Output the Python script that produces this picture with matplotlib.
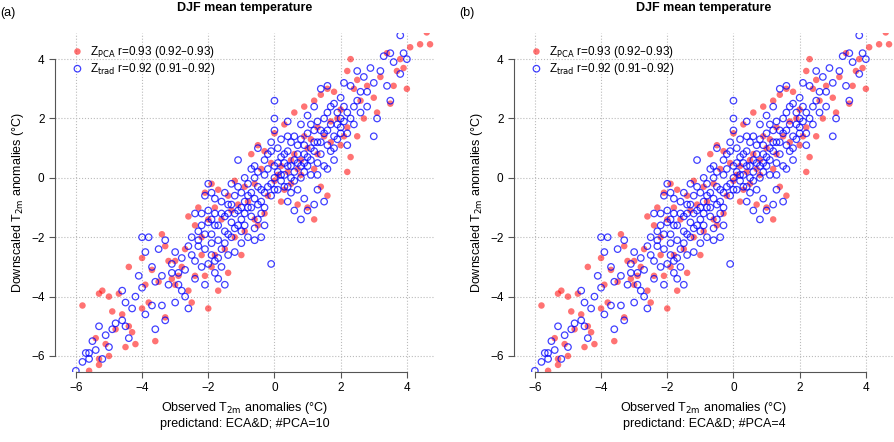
import matplotlib
matplotlib.use('Agg')
import matplotlib.pyplot as plt

plt.rcParams['font.family'] = ['Liberation Sans', 'DejaVu Sans']

# observed vs downscaled anomalies (approximate)
trad_pts = [(-6,-6.5),(-5.8,-6.2),(-5.7,-5.9),(-5.6,-6.1),(-5.5,-5.5),(-5.4,-5.8),(-5.2,-6.1),(-5.1,-5.3),(-5.0,-5.7),(-4.9,-5.1),
    (-4.8,-4.9),(-4.6,-4.8),(-4.5,-5.0),(-4.4,-5.4),(-4.5,-4.2),(-4.3,-4.4),(-4.6,-3.8),(-4.2,-4.0),(-4.0,-3.7),(-3.9,-4.6),
    (-3.7,-4.3),(-3.6,-5.1),(-3.4,-4.3),(-3.3,-4.8),(-3.9,-2.5),(-4.0,-2.0),(-3.8,-2.0),(-3.5,-2.4),(-3.7,-3.0),(-3.4,-3.3),
    (-3.2,-3.6),(-3.1,-2.9),(-3.0,-2.5),(-2.9,-3.2),(-2.8,-3.8),(-2.7,-4.0),(-2.6,-4.4),(-3.0,-4.2),(-2.5,-2.0),(-2.3,-2.3),
    (-2.2,-1.2),(-2.0,-0.2),(-2.1,-0.6),(-1.9,-0.5),(-2.0,-1.5),(-1.8,-2.8),(-1.7,-3.4),(-1.5,-3.6),(-1.6,-3.0),(-2.2,-3.0),
    (-2.4,-2.8),(-1.9,-2.2),(-1.4,-2.6),(-1.2,-2.5),(-1.0,-2.2),(-0.8,-2.0),(-0.6,-2.1),(-0.4,-2.0),(-0.1,-2.9),(-0.3,-1.6),
    (-1.0,-1.4),(-1.4,-1.2),(-1.6,-0.8),(-1.3,-0.2),(-1.1,0.6),(-0.9,0.0),(-0.8,-0.6),(-0.5,-0.9),(-0.7,0.3),(-0.5,1.0),
    (-0.3,0.6),(0.0,2.6),(0.0,1.6),(0.0,2.0),(-0.1,1.2),(0.2,1.3),(0.4,1.9),(0.1,0.2),(0.3,-0.3),(0.5,-0.5),
    (0.6,-1.1),(0.8,-1.4),(1.0,-1.1),(1.2,-0.9),(1.5,-0.8),(0.7,0.5),(0.9,0.2),(1.1,0.6),(1.3,0.1),(1.6,0.3),
    (0.4,0.9),(0.6,1.4),(0.8,1.8),(1.0,2.1),(1.2,2.4),(1.4,3.0),(1.6,3.1),(1.8,2.5),(2.0,2.0),(1.9,1.3),
    (2.2,1.5),(2.4,2.4),(2.6,2.9),(2.3,3.1),(2.5,3.6),(2.8,2.9),(3.0,3.2),(3.1,2.0),(3.0,1.4),(3.2,3.6),
    (3.4,3.1),(3.5,2.6),(3.6,3.9),(3.8,3.5),(3.9,4.2),(4.0,4.0),(3.8,4.8),(3.5,4.2),(3.3,4.1),(2.7,3.4),
    (2.9,3.7),(2.1,3.2),(1.7,1.8),(1.5,1.5),(1.3,1.2),(1.1,1.0),(0.9,0.8),(0.7,1.1),(0.5,0.4),(0.3,0.1),
    (0.1,0.5),(-0.1,-0.2),(-0.3,-0.5),(-0.5,-0.3),(-0.7,-1.0),(-0.9,-0.8),(-1.1,-1.1),(-1.3,-1.5),(-1.5,-1.8),(-1.7,-1.6),
    (-1.9,-1.9),(-2.1,-2.4),(-2.3,-1.8),(-2.6,-2.3),(-2.8,-2.7),(-1.5,-2.2),(-1.0,-0.5),(0.0,0.0),(0.2,0.7),(0.6,-0.1),
    (1.0,0.4),(1.4,0.8),(1.8,1.4),(2.2,2.2),(2.6,2.2),(-0.2,0.3),(-0.6,0.4),(0.4,-0.8),(1.2,1.6),(1.6,2.2),
    (2.0,2.7),(-1.2,-0.6),(-2.4,-1.2),(-1.8,-1.2),(-0.4,-1.2),(0.8,0.0),(1.8,0.6),(2.4,1.8),(2.8,2.4),(-3.3,-2.1),
    (-3.6,-3.5),(-4.1,-3.3),(-5.3,-5.0),(-5.6,-5.9)]

# dense core of the blue cloud
trad_core = [(-2.0,-1.1),(-1.9,-1.4),(-1.8,-0.7),(-1.7,-2.1),(-1.6,-1.2),(-1.5,-0.5),(-1.4,-1.9),(-1.3,-0.9),(-1.2,-1.7),(-1.1,-0.3),
    (-1.0,-1.0),(-0.9,-1.6),(-0.8,-0.2),(-0.7,-1.3),(-0.6,-0.7),(-0.5,0.2),(-0.4,-0.4),(-0.3,-1.0),(-0.2,0.8),(-0.1,-0.6),
    (0.0,0.4),(0.1,-0.4),(0.2,0.1),(0.3,0.8),(0.4,0.4),(0.5,1.2),(0.6,0.2),(0.7,0.8),(0.8,1.3),(0.9,0.5),
    (1.0,1.5),(1.1,0.1),(1.2,0.9),(1.3,1.9),(1.4,1.2),(1.5,0.4),(1.6,1.6),(1.7,2.4),(1.8,1.0),(1.9,1.8),
    (2.0,1.5),(2.1,2.4),(2.2,1.1),(2.3,2.0),(2.5,2.6),(-2.2,-1.6),(-2.1,-1.9),(-1.9,-2.6),(-1.6,-2.4),(-1.3,-2.0),
    (-1.1,-1.6),(-0.9,-1.2),(-0.7,-0.5),(-0.5,-1.4),(-0.3,0.1),(-0.1,0.9),(0.1,1.0),(0.3,0.5),(0.5,0.0),(0.7,-0.4),
    (0.9,1.1),(1.1,1.8),(1.3,0.5),(1.5,2.0),(1.7,0.9),(1.9,2.2),(2.1,1.9),(-1.5,-1.3),(-1.2,-1.2),(-0.8,-1.0),
    (-0.4,-0.8),(0.0,-0.4),(0.4,1.4),(0.8,0.4),(1.2,1.2),(1.6,1.1),(2.0,1.7),(-0.6,0.0),(-0.2,-0.3),(0.2,-0.1),
    (0.6,0.6),(1.0,0.7),(1.4,1.6),(-1.8,-1.6),(-1.4,-0.9),(-1.0,-1.8),(-0.6,-1.7),(0.4,-0.3),(0.9,-0.7),(1.3,-0.4),
    (-2.3,-2.1),(-2.5,-2.6),(-2.0,-2.9),(-1.7,-2.7),(-2.7,-3.1),(-2.4,-3.4),(-2.1,-3.6),(-1.8,-3.2),(-3.1,-3.2),(-2.9,-3.6)]

pca_pts = [(-5.8,-4.3),(-5.3,-3.9),(-5.2,-3.8),(-5.0,-4.0),(-4.9,-4.5),(-5.1,-5.6),(-5.0,-6.0),(-5.3,-6.3),(-5.6,-6.5),(-5.3,-6.1),
    (-4.8,-5.1),(-4.4,-5.0),(-4.3,-5.2),(-4.2,-5.6),(-3.6,-5.5),(-4.0,-4.4),(-3.8,-4.2),(-3.9,-3.6),(-4.4,-3.0),(-4.0,-2.7),
    (-3.7,-3.1),(-3.5,-3.5),(-3.4,-1.9),(-3.3,-2.3),(-3.2,-2.8),(-3.1,-3.4),(-3.0,-3.6),(-2.9,-3.3),(-2.8,-3.0),(-2.6,-3.8),
    (-2.5,-4.2),(-2.0,-4.4),(-2.1,-3.3),(-1.9,-3.0),(-1.7,-3.8),(-1.4,-3.2),(-1.0,-2.6),(-0.9,-1.8),(-0.5,-1.6),(-0.3,-1.2),
    (-2.1,-0.5),(-1.9,-0.2),(-1.7,-0.4),(-2.3,-1.0),(-2.4,-1.6),(-2.6,-1.3),(-2.2,-2.0),(-1.6,-1.4),(-1.3,-1.1),(-1.1,-0.9),
    (-0.8,-0.8),(-0.6,-0.2),(-0.4,0.3),(-0.2,-0.6),(0.0,-0.1),(0.2,0.4),(0.4,0.2),(0.6,0.8),(0.8,0.6),(1.0,1.0),
    (1.2,0.3),(1.4,-0.3),(1.6,-0.6),(1.2,-1.4),(1.0,-1.0),(0.7,-0.9),(0.3,-0.4),(-0.5,1.1),(-0.3,0.9),(-0.7,0.8),
    (0.0,1.5),(0.3,1.8),(0.6,2.2),(0.9,2.4),(1.2,2.6),(1.4,2.8),(1.6,3.0),(1.8,2.9),(2.0,2.3),(2.2,1.7),
    (2.0,1.1),(2.3,0.7),(2.2,0.2),(2.1,1.4),(2.5,1.4),(2.6,2.6),(2.4,3.0),(2.2,3.6),(2.3,4.0),(2.5,3.3),
    (2.8,3.1),(3.0,2.7),(3.2,3.4),(3.4,4.2),(3.6,3.1),(3.5,2.5),(3.7,3.6),(3.8,4.0),(4.1,4.4),(4.4,4.5),
    (4.6,4.9),(4.7,4.5),(4.0,3.0),(3.9,3.7),(1.5,1.4),(1.7,1.9),(1.9,2.0),(1.3,1.7),(1.1,1.3),(0.9,1.4),
    (0.7,0.3),(0.5,0.6),(0.1,0.1),(-0.1,0.5),(-0.9,-0.3),(-1.2,-0.1),(-1.4,-0.6),(-1.8,-1.0),(-2.0,-1.4),(-2.2,-2.6),
    (-2.7,-2.4),(-3.0,-2.8),(-1.5,-2.4),(-1.2,-2.0),(-0.6,-1.4),(0.2,-0.8),(0.5,-0.2),(0.8,0.1),(1.3,0.8),(1.7,1.2),
    (2.7,2.0),(3.1,2.2),(-4.6,-4.6),(-4.7,-3.9),(-5.4,-5.4),(-4.5,-5.7),(-3.3,-4.7),(-2.4,-3.3),(-1.8,-2.6)]

panel_tags = ['(a)', '(b)']
npca = [10, 4]
ticks = [-6, -4, -2, 0, 2, 4]
tick_labels = ['\u22126', '\u22124', '\u22122', '0', '2', '4']
label_pca = r'Z$_{\mathrm{PCA}}$ r=0.93 (0.92–0.93)'
label_trad = r'Z$_{\mathrm{trad}}$ r=0.92 (0.91–0.92)'

trad_all = trad_pts + trad_core

fig = plt.figure(figsize=(8.95, 4.42), dpi=100)
lefts = [55 / 895, 514 / 895]
for i in range(2):
    ax = fig.add_axes([lefts[i], 70 / 442, 380 / 895, 339 / 442])
    ax.scatter([p[0] for p in pca_pts], [p[1] for p in pca_pts], s=22, color='red', alpha=0.55,
               edgecolors='none', label=label_pca, zorder=2)
    ax.scatter([p[0] for p in trad_all], [p[1] for p in trad_all], s=22, facecolors='none',
               edgecolors='blue', linewidths=0.9, alpha=0.75, label=label_trad, zorder=3)
    ax.set_xlim(-6.63, 4.85)
    ax.set_ylim(-6.54, 4.88)
    ax.set_xticks(ticks)
    ax.set_yticks(ticks)
    ax.set_xticklabels(tick_labels)
    ax.set_yticklabels(tick_labels)
    ax.grid(True, linestyle=':', color='#bbbbbb', linewidth=0.8, zorder=0)
    ax.set_axisbelow(True)
    for s in ['top', 'right']:
        ax.spines[s].set_visible(False)
    ax.spines['left'].set_bounds(-6, 4)
    ax.spines['bottom'].set_bounds(-6, 4)
    ax.spines['left'].set_color('#555555')
    ax.spines['bottom'].set_color('#555555')
    ax.tick_params(labelsize=8.5, length=4, color='#555555')
    ax.set_xlabel('Observed T$_{\\mathrm{2m}}$ anomalies (°C)\npredictand: ECA&D; #PCA=%d' % npca[i],
                  fontsize=9)
    ax.set_ylabel('Downscaled T$_{\\mathrm{2m}}$ anomalies (°C)', fontsize=9)
    fig.text(lefts[i] + 190 / 895, 1 - 8 / 442, 'DJF mean temperature', fontsize=9,
             fontweight='bold', ha='center', va='center')
    ax.legend(loc='upper left', frameon=False, fontsize=8.5, handletextpad=0.1,
              borderaxespad=0.3, labelspacing=0.1, markerscale=1.0, borderpad=0.6)
    fig.text(lefts[i] - 55 / 895, 0.985, panel_tags[i], fontsize=9, va='top')

fig.savefig('out.png', dpi=100)
